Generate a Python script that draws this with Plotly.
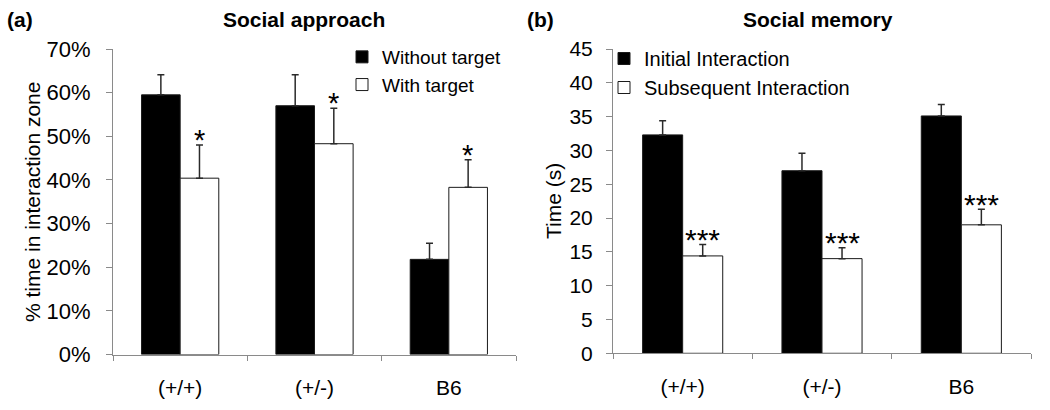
import plotly.graph_objects as go

# ---- data ----
categories = ["(+/+)", "(+/-)", "B6"]

# Panel (a) Social approach: % time in interaction zone
approach_without = [59.5, 57.0, 21.8]
approach_without_err = [4.6, 7.1, 3.7]
approach_with = [40.4, 48.3, 38.3]
approach_with_err = [7.6, 8.1, 6.3]
approach_sig = ["*", "*", "*"]

# Panel (b) Social memory: time (s)
memory_initial = [32.3, 27.0, 35.1]
memory_initial_err = [2.1, 2.6, 1.7]
memory_subsequent = [14.4, 14.0, 19.0]
memory_subsequent_err = [1.7, 1.6, 2.3]
memory_sig = ["***", "***", "***"]

W, H = 1050, 410
FONT = "Liberation Sans, Arial, sans-serif"
AX_COLOR = "#8a8a8a"
ERR_COLOR = "#2a2a2a"

fig = go.Figure()

def add_bar(x, y, err, name, fill, xa, ya, legend):
    fig.add_trace(go.Bar(
        x=x, y=y, name=name,
        marker=dict(color=fill, line=dict(color="#1a1a1a", width=1)),
        error_y=dict(type="data", array=err, arrayminus=[0] * len(err),
                     symmetric=False, color=ERR_COLOR, thickness=1.5, width=3.5),
        xaxis=xa, yaxis=ya, legend=legend,
    ))

add_bar(categories, approach_without, approach_without_err, "Without target", "black", "x", "y", "legend")
add_bar(categories, approach_with, approach_with_err, "With target", "white", "x", "y", "legend")
add_bar(categories, memory_initial, memory_initial_err, "Initial Interaction", "black", "x2", "y2", "legend2")
add_bar(categories, memory_subsequent, memory_subsequent_err, "Subsequent Interaction", "white", "x2", "y2", "legend2")

annotations = []
# significance stars above the white bars
for c, v, e, s in zip(categories, approach_with, approach_with_err, approach_sig):
    annotations.append(dict(x=c, y=v + e, xref="x", yref="y", text=s, showarrow=False,
                            xshift=19, yshift=5, yanchor="middle",
                            font=dict(family=FONT, size=29, color="black")))
for c, v, e, s in zip(categories, memory_subsequent, memory_subsequent_err, memory_sig):
    annotations.append(dict(x=c, y=v + e, xref="x2", yref="y2", text=s, showarrow=False,
                            xshift=20, yshift=5, yanchor="middle",
                            font=dict(family=FONT, size=30, color="black")))

# panel titles and letters
for txt, xpx in [("<b>(a)</b>", 5), ("<b>(b)</b>", 525)]:
    annotations.append(dict(x=xpx / W, y=1 - 19 / H, xref="paper", yref="paper", text=txt,
                            showarrow=False, xanchor="left", yanchor="middle",
                            font=dict(family=FONT, size=21, color="black")))
for txt, xpx in [("<b>Social approach</b>", 304), ("<b>Social memory</b>", 818)]:
    annotations.append(dict(x=xpx / W, y=1 - 19 / H, xref="paper", yref="paper", text=txt,
                            showarrow=False, xanchor="center", yanchor="middle",
                            font=dict(family=FONT, size=21, color="black")))
# y axis titles
for txt, xpx, ypx in [("% time in interaction zone", 32, 202), ("Time (s)", 553, 201)]:
    annotations.append(dict(x=xpx / W, y=1 - ypx / H, xref="paper", yref="paper", text=txt,
                            showarrow=False, textangle=-90, xanchor="center", yanchor="middle",
                            font=dict(family=FONT, size=21, color="black")))

xaxis_common = dict(type="category", showline=True, linecolor=AX_COLOR, linewidth=1,
                    ticks="outside", tickson="boundaries", ticklen=5, tickcolor=AX_COLOR,
                    showgrid=False, zeroline=False, ticklabelstandoff=14, automargin=False,
                    tickfont=dict(family=FONT, size=21, color="black"), fixedrange=True)
yaxis_common = dict(showline=True, linecolor=AX_COLOR, linewidth=1, ticks="outside",
                    ticklen=6, tickcolor=AX_COLOR, showgrid=False, zeroline=False,
                    automargin=False, fixedrange=True)

fig.update_layout(
    width=W, height=H,
    margin=dict(l=0, r=0, t=0, b=0, autoexpand=False),
    paper_bgcolor="white", plot_bgcolor="white",
    barmode="group", bargap=0.425, bargroupgap=0,
    font=dict(family=FONT, color="black"),
    xaxis=dict(domain=[113 / W, 516 / W], anchor="y", **xaxis_common),
    yaxis=dict(domain=[(H - 354.5) / H, (H - 49) / H], anchor="x", range=[0, 70], dtick=10,
               ticksuffix="%", ticklabelstandoff=11,
               tickfont=dict(family=FONT, size=22, color="black"), **yaxis_common),
    xaxis2=dict(domain=[613 / W, 1031 / W], anchor="y2", **xaxis_common),
    yaxis2=dict(domain=[(H - 353.3) / H, (H - 49) / H], anchor="x2", range=[0, 45], dtick=5,
                ticklabelstandoff=9,
                tickfont=dict(family=FONT, size=21, color="black"), **yaxis_common),
    legend=dict(x=342 / W, y=1 - 38 / H, xanchor="left", yanchor="top",
                bgcolor="rgba(0,0,0,0)", font=dict(family=FONT, size=19, color="black"),
                itemwidth=30, tracegroupgap=0),
    legend2=dict(x=604 / W, y=1 - 39 / H, xanchor="left", yanchor="top",
                 bgcolor="rgba(0,0,0,0)", font=dict(family=FONT, size=20, color="black"),
                 itemwidth=30, tracegroupgap=0),
    showlegend=True,
    annotations=annotations,
)

fig.write_html("out.html", config={"displayModeBar": False},
               post_script="document.body.style.margin='0';")
